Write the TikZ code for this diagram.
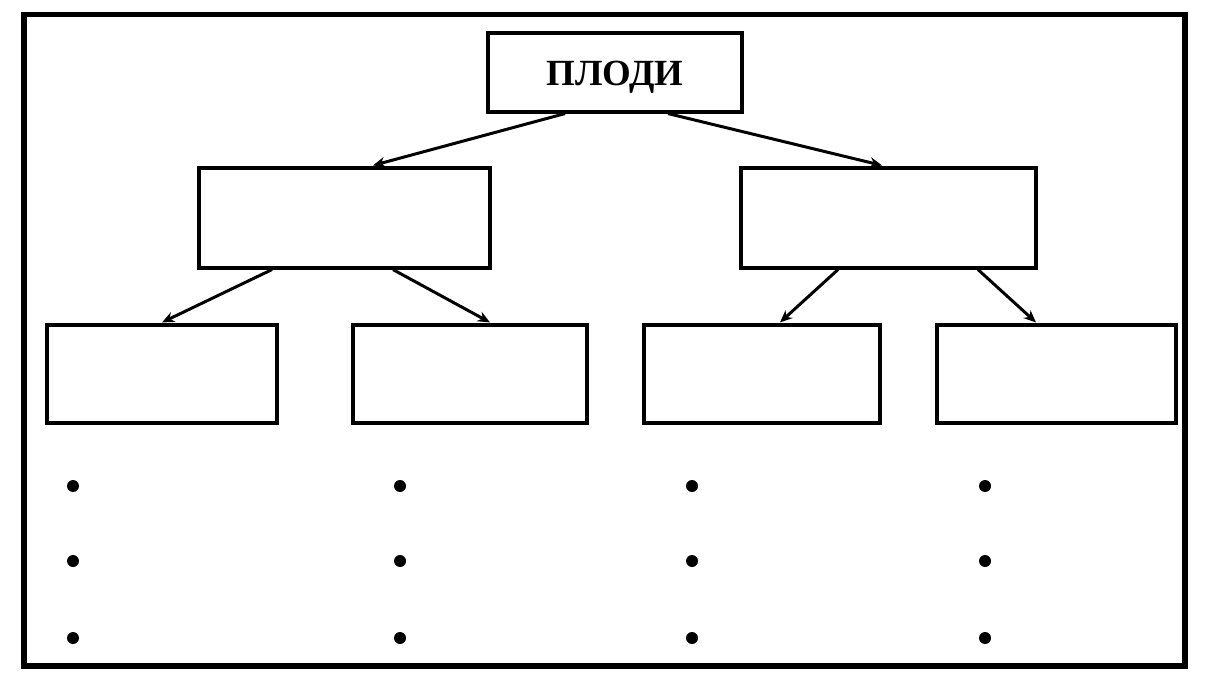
\documentclass[tikz,border=0pt]{standalone}
\usepackage{fontspec}
\setmainfont{Liberation Serif}
\usepackage{tikz}
\usetikzlibrary{arrows.meta, positioning, calc}
\tikzset{
  blk/.style={
    rectangle, draw=black, line width=1.8pt, fill=white,
    minimum width=#1, minimum height=2cm, inner sep=0pt
  },
  arr/.style={line width=1.7pt, -{Stealth[length=7pt,width=6pt]}}
}
\begin{document}
\begin{tikzpicture}[
    x=0.02cm, y=-0.02cm,
    tblk/.style={blk=5.08cm, minimum height=1.58cm,
                 font=\fontsize{21}{25}\selectfont\bfseries},
    dot/.style={circle, fill=black, inner sep=0pt, minimum size=0.24cm}
  ]
  \useasboundingbox (0,0) rectangle (1212,678);
  \draw[line width=2.9pt] (24,14.5) rectangle (1185,666);

  \node[tblk] (plody) at (615,72.5) {};
  \node[font=\fontsize{21}{25}\selectfont\bfseries] (plodytxt) at (615,77) {ПЛОДИ};
  \node[blk=5.82cm] (lft) at (344.5,218) {};
  \node[blk=5.90cm] (rgt) at (888.5,218) {};
  \node[blk=4.60cm, minimum height=1.96cm] (la) at (162,374) {};
  \node[blk=4.68cm, minimum height=1.96cm] (lb) at (470,374) {};
  \node[blk=4.72cm, minimum height=1.96cm] (ra) at (762,374) {};
  \node[blk=4.78cm, minimum height=1.96cm] (rb) at (1056.5,374) {};

  \draw[arr] ($(plody.south)+(-50,0)$) -- ($(lft.north)+(28.5,-1)$);
  \draw[arr] ($(plody.south)+(53,0)$) -- ($(rgt.north)+(-6.5,-1)$);
  \draw[arr] ($(lft.south)+(-72.5,0)$) -- ($(la.north)+(0,-1)$);
  \draw[arr] ($(lft.south)+(48.5,0)$) -- ($(lb.north)+(20,-1)$);
  \draw[arr] ($(rgt.south)+(-50.5,0)$) -- ($(ra.north)+(18,-1)$);
  \draw[arr] ($(rgt.south)+(89.5,0)$) -- ($(rb.north)+(-20.5,-1)$);

  % list markers
  \foreach \cx/\col in {73/a, 400/b, 692/c, 985/d}
    \foreach \cy/\row in {486/1, 561/2, 638/3}
      \node[dot] (dot\col\row) at (\cx,\cy) {};
\end{tikzpicture}
\end{document}
